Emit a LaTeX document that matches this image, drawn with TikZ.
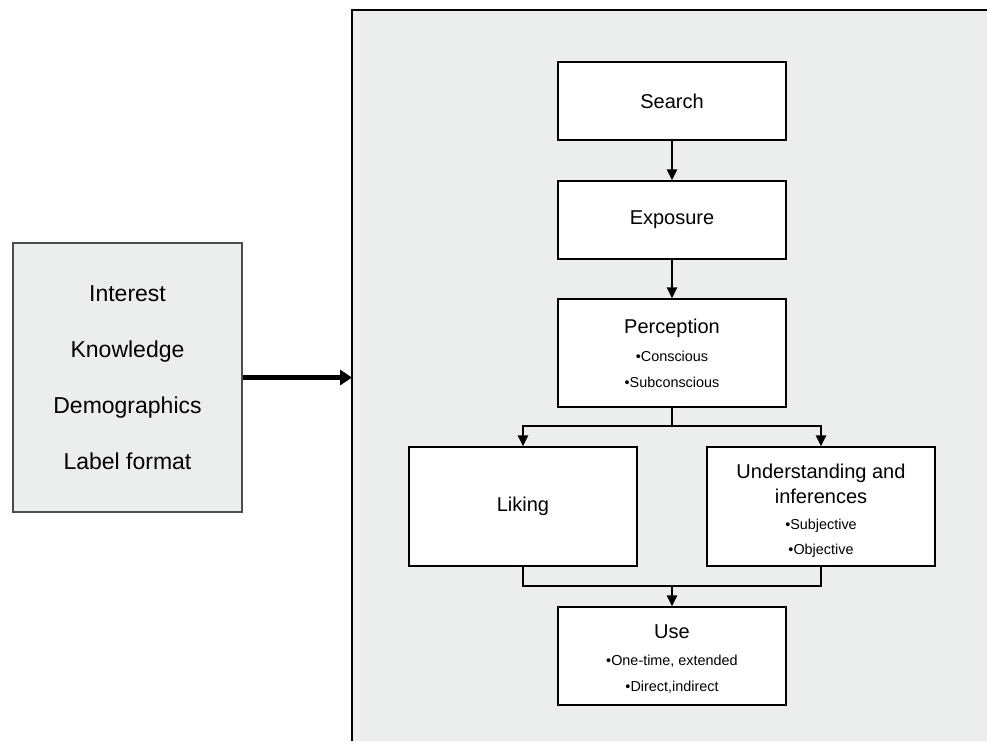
\documentclass[tikz,border=0pt]{standalone}
\usepackage{fontspec}
\setmainfont{Liberation Sans}
\usetikzlibrary{arrows.meta}
\definecolor{panelgray}{RGB}{236,237,237}
\newcommand{\boxtitle}{\fontsize{10}{13}\selectfont}

\begin{document}
\begin{tikzpicture}[x=0.5pt,y=-0.5pt,
  box/.style={draw,line width=0.6pt,fill=white,inner sep=0pt,minimum width=114pt,align=center,
    font=\fontsize{7.2}{13}\selectfont},
  flow/.style={line width=1.2pt,-{Triangle[length=5.5pt,width=5pt]}},
  bigflow/.style={line width=2.3pt,-{Triangle[length=6pt,width=7.5pt]}}]
\useasboundingbox (0,0) rectangle (987,741);

% panel on the right
\fill[panelgray] (352,10) rectangle (987,741);
\draw[line width=0.8pt] (352,741) -- (352,10) -- (987,10);

% factors box on the left
\node[draw=black!70,line width=0.6pt,fill=panelgray,inner sep=0pt,minimum width=114.5pt,minimum height=134.5pt,
  align=center,font=\fontsize{11.5}{28}\selectfont] (factors) at (127.5,377.5)
  {Interest\\Knowledge\\Demographics\\Label format};
\coordinate (paneledge) at (352,377.5);
\draw[bigflow] (factors) -- (paneledge);

% steps
\node[box,minimum height=39pt,font=\boxtitle] (search) at (672,101) {Search};
\node[box,minimum height=39pt,font=\boxtitle] (expo) at (672,220) {Exposure};
\node[box,minimum height=54pt] (perc) at (672,353)
  {{\boxtitle Perception}\\[1pt] •Conscious\\ •Subconscious};
\node[box,minimum height=59.5pt,font=\boxtitle] (liking) at (523,506.5) {Liking};
\node[box,minimum height=59.5pt,font=\fontsize{7.2}{12.7}\selectfont] (under) at (821,506.5)
  {{\boxtitle\rule{0pt}{11.5pt}Understanding and}\\ {\boxtitle inferences}\\ •Subjective\\ •Objective};
\node[box,minimum height=49pt] (use) at (672,656)
  {{\boxtitle\rule{0pt}{10.3pt}Use}\\[0.5pt] •One-time, extended\\ •Direct,indirect};

\coordinate (split) at (672,426);
\coordinate (join) at (672,586);

\draw[flow] (search) -- (expo);
\draw[flow] (expo) -- (perc);
\draw[line width=1.2pt] (perc) -- (split);
\draw[flow] (split) -| (liking);
\draw[flow] (split) -| (under);
\draw[line width=1.2pt] (liking) |- (join) -| (under);
\draw[flow] (join) -- (use);
\end{tikzpicture}
\end{document}
